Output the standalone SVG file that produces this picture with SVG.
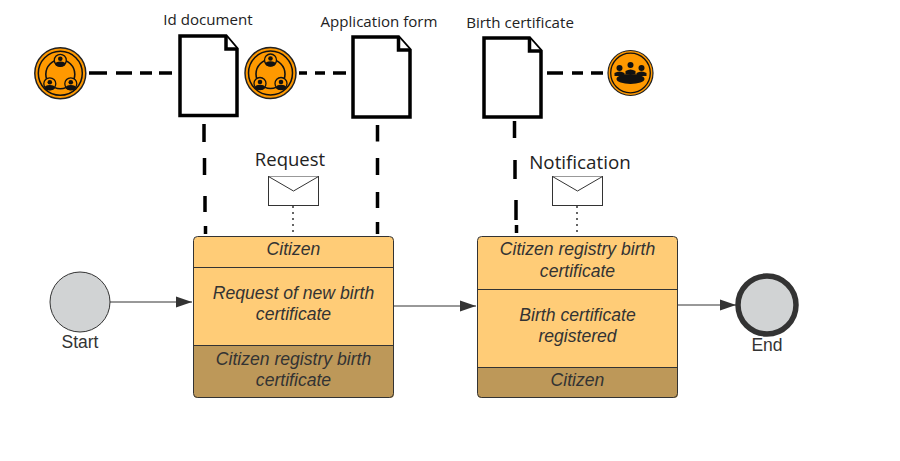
<svg xmlns="http://www.w3.org/2000/svg" width="900" height="461" viewBox="0 0 900 461">
<style>
.ui{font-family:"Open Sans","Noto Sans",sans-serif;fill:#222}
.b{font-family:"Liberation Sans",Arial,sans-serif;font-style:italic;font-size:17.6px;fill:#333;text-anchor:middle}
.l{font-family:"Liberation Sans",Arial,sans-serif;font-size:17.5px;fill:#333;text-anchor:middle}
.doc{fill:#fff;stroke:#000;stroke-width:3.5}
.dash{fill:none;stroke:#000;stroke-width:3.5}
.div{fill:none;stroke:#333;stroke-width:1}
.flow{fill:none;stroke:#333;stroke-width:1}
.env{fill:#fff;stroke:#333;stroke-width:1}
.ic{fill:#f90;stroke:#222;stroke-width:1.2}
</style>
<defs>
<marker id="a" markerWidth="17" markerHeight="12" refX="16" refY="6" orient="auto" markerUnits="userSpaceOnUse"><path d="M0 .5L16 6L0 11.5z" fill="#333"/></marker>
<g id="person"><circle r="6" fill="#f90" stroke="#111" stroke-width="1.3"/><circle cy="-1.500" r="2.300" fill="#111"/><ellipse cy="3.800" rx="5" ry="2.600" fill="#111"/></g>
<g id="loop">
<circle r="25.500" fill="#f90" stroke="#222" stroke-width="1.500"/>
<circle r="22" fill="none" stroke="#111" stroke-width="1.500"/>
<circle cy="1" r="14.500" fill="none" stroke="#111" stroke-width="1.600"/>
<use href="#person" y="-13"/>
<use href="#person" x="-10.500" y="10.500"/>
<use href="#person" x="10.500" y="10.500"/>
</g>
</defs>
<g id="connectors">
<path class="dash" d="M89 73H107M116 73H132M140 73H152M159 73H172"/>
<path class="dash" d="M299 73H307M315 73H325M333 73H346"/>
<path class="dash" d="M547 73H563M572 73H583M591 73H603"/>
<path class="dash" d="M204 124V142M204.500 158V175M205 196V212M205.500 226V234"/>
<path class="dash" d="M377.500 125V141.500M377.500 158V175M377.500 192V208M377.500 222V234"/>
<path class="dash" d="M514.500 121V138M515 160V179M516 200V220M516.500 225V233"/>
<path d="M293 206V235" fill="none" stroke="#333" stroke-width="1.500" stroke-dasharray="2 4"/>
<path d="M577 206V235" fill="none" stroke="#333" stroke-width="1.500" stroke-dasharray="2 4"/>
<path class="flow" d="M110 302H192" marker-end="url(#a)"/>
<path class="flow" d="M394 306H476" marker-end="url(#a)"/>
<path class="flow" d="M678 305H736" marker-end="url(#a)"/>
</g>
<g id="pool1"><use href="#loop" x="60.300" y="73.300"/></g>
<g id="pool2"><use href="#loop" x="270.500" y="73"/></g>
<g id="pool3">
<circle cx="630.500" cy="73" r="22.500" class="ic"/><circle cx="630.500" cy="73" r="19.800" fill="none" stroke="#111" stroke-width="1.300"/>
<ellipse cx="630.500" cy="79" rx="14" ry="5" fill="#111"/>
<circle cx="630.500" cy="65" r="3" fill="#111"/><path d="M625.500 74v-3q5-3 10 0v3z" fill="#111"/>
<circle cx="619.500" cy="68" r="3" fill="#111"/><path d="M614.500 76v-3q5-3 10 0v3z" fill="#111"/>
<circle cx="641.500" cy="68" r="3" fill="#111"/><path d="M636.500 76v-3q5-3 10 0v3z" fill="#111"/>
</g>
<g id="doc1"><path class="doc" d="M180 36H226L237 49V115.500H180z"/><path class="doc" d="M226 36V49H237"/><text class="ui" x="208" y="25" font-size="15.100" text-anchor="middle">Id document</text></g>
<g id="doc2"><path class="doc" d="M353 37H398.500L410 50V117H353z"/><path class="doc" d="M398.500 37V50H410"/><text class="ui" x="379" y="27" font-size="15.100" text-anchor="middle">Application form</text></g>
<g id="doc3"><path class="doc" d="M484 38H529.500L541 51V117H484z"/><path class="doc" d="M529.500 38V51H541"/><text class="ui" x="520" y="28" font-size="15.100" text-anchor="middle">Birth certificate</text></g>
<g id="msg1"><rect class="env" x="268.500" y="176.500" width="50" height="29"/><path class="env" d="M268.500 176.500L293.500 191L318.500 176.500" fill="none"/><text class="ui" x="290" y="166" font-size="18.500" text-anchor="middle">Request</text></g>
<g id="msg2"><rect class="env" x="552.500" y="176.500" width="50" height="29"/><path class="env" d="M552.500 176.500L577.500 191L602.500 176.500" fill="none"/><text class="ui" x="580" y="169" font-size="18.800" text-anchor="middle">Notification</text></g>
<g id="task1">
<path d="M193.500 345.500V241a4 4 0 0 1 4-4H390a4 4 0 0 1 4 4V345.500z" fill="#fc7"/>
<path d="M193.500 345.500H394V394a4 4 0 0 1 -4 4H197.500a4 4 0 0 1 -4-4z" fill="#bd9859"/>
<rect class="div" x="193.500" y="236.500" width="200" height="161" rx="4"/>
<path class="div" d="M193.500 267.500H393.500M193.500 345.500H393.500"/>
<text class="b" x="293.500" y="255">Citizen</text>
<text class="b" x="293.500" y="299">Request of new birth</text><text class="b" x="293.500" y="320">certificate</text>
<text class="b" x="293.500" y="365">Citizen registry birth</text><text class="b" x="293.500" y="386">certificate</text>
</g>
<g id="task2">
<path d="M477.500 367.500V241a4 4 0 0 1 4-4H674a4 4 0 0 1 4 4V367.500z" fill="#fc7"/>
<path d="M477.500 367.500H678V394a4 4 0 0 1 -4 4H481.500a4 4 0 0 1 -4-4z" fill="#bd9859"/>
<rect class="div" x="477.500" y="236.500" width="200" height="161" rx="4"/>
<path class="div" d="M477.500 289.500H677.500M477.500 367.500H677.500"/>
<text class="b" x="577.500" y="255">Citizen registry birth</text><text class="b" x="577.500" y="277">certificate</text>
<text class="b" x="577.500" y="321">Birth certificate</text><text class="b" x="577.500" y="342">registered</text>
<text class="b" x="577.500" y="386">Citizen</text>
</g>
<g id="start"><circle cx="80" cy="302" r="30" fill="#d1d3d4" stroke="#333" stroke-width="1"/><text class="l" x="80" y="348">Start</text></g>
<g id="end"><circle cx="767" cy="305" r="29" fill="#d1d3d4" stroke="#333" stroke-width="5.500"/><text class="l" x="767" y="351">End</text></g>
</svg>
